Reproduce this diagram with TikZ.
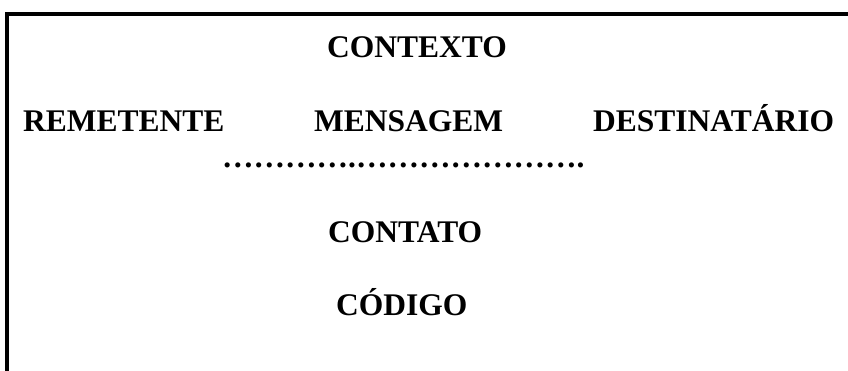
\documentclass[tikz,border=0pt]{standalone}
\usepackage{fontspec}
\setmainfont{Liberation Serif}

\newcommand{\reticencias}[1]{\foreach \k in {1,...,#1}{…}}

\begin{document}
\begin{tikzpicture}[
  x=1pt, y=-1pt,
  term/.style={anchor=base west, inner sep=0pt, font=\fontsize{31.5}{38}\selectfont\bfseries}
]
  \useasboundingbox (0,0) rectangle (848,371);
  % frame: top and left edges only
  \draw[line width=3.3pt] (848,14) -- (7,14) -- (7,371);

  \node[term] (contexto) at (327,58) {CONTEXTO};
  \node[term] (remetente) at (23,132) {REMETENTE};
  \node[term] (mensagem) at (314,132) {MENSAGEM};
  \node[term] (destinatario) at (593,132) {DESTINATÁRIO};
  \node[term] (pontos) at (222,168) {\reticencias{4}.\reticencias{7}.};
  \node[term] (contato) at (328,243) {CONTATO};
  \node[term] (codigo) at (336,315) {CÓDIGO};
\end{tikzpicture}
\end{document}
